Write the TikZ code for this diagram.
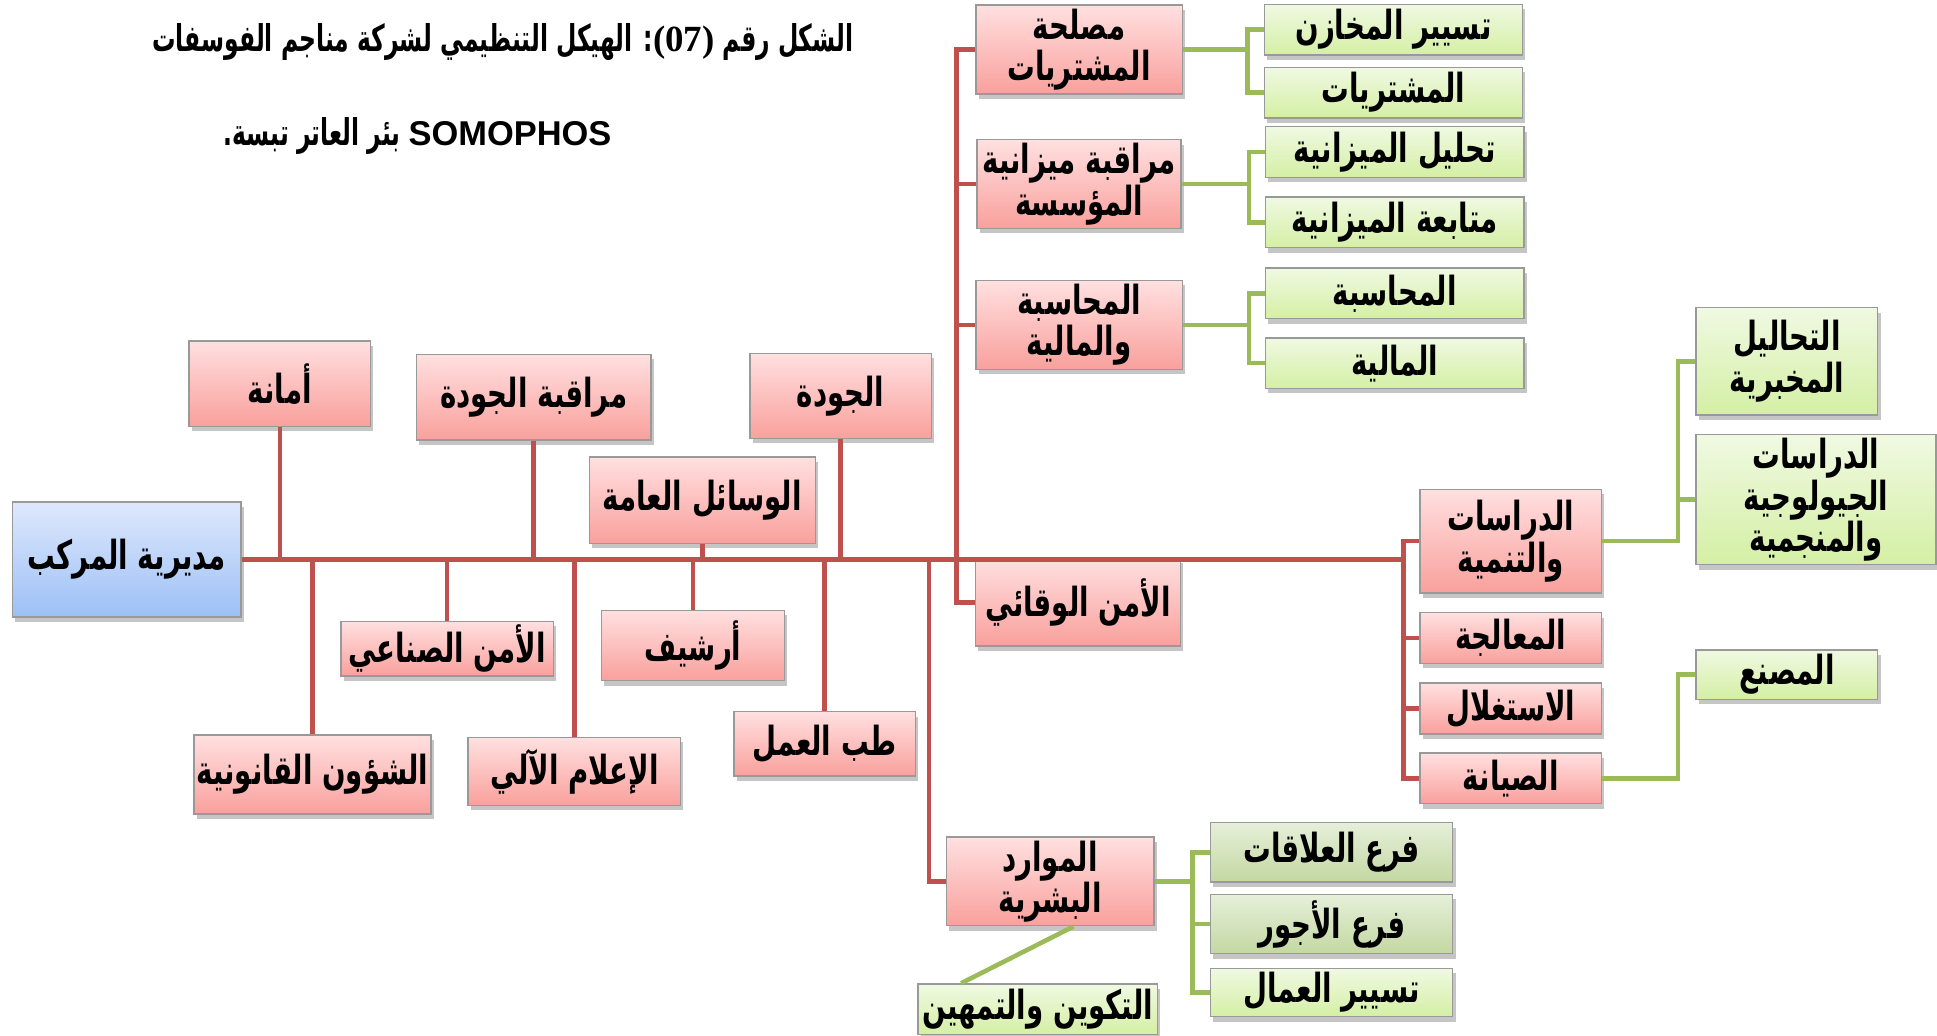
\documentclass[tikz,border=0pt]{standalone}
\usepackage{fontspec}
\setmainfont{Liberation Sans}
\newfontfamily\arabicfont[Script=Arabic,FakeStretch=0.69]{DejaVu Sans}
\newfontfamily\titlefont[Script=Arabic,FakeStretch=0.635]{DejaVu Sans}
\newfontfamily\numfont{Liberation Serif}
\TeXXeTstate=1
\usetikzlibrary{shadows,calc}
\newcommand{\ar}[1]{{\arabicfont\bfseries\beginR #1\endR}}
\newcommand{\tar}[1]{{\titlefont\bfseries\beginR #1\endR}}
\definecolor{lnred}{HTML}{C0504D}
\definecolor{lngreen}{HTML}{9BBB59}
\definecolor{redtop}{HTML}{FFE0E0}
\definecolor{redbot}{HTML}{F9A09C}
\definecolor{bluetop}{HTML}{DEE8FC}
\definecolor{bluebot}{HTML}{9CC0F6}
\definecolor{greentop}{HTML}{F0F9E2}
\definecolor{greenbot}{HTML}{D4EFA4}
\definecolor{olivetop}{HTML}{E6EFD9}
\definecolor{olivebot}{HTML}{C3D8A2}
\tikzset{
    box/.style = {draw=black!40, rectangle, align=center, inner xsep=0pt, inner ysep=1pt,
        font=\fontsize{11.4}{11.8}\selectfont,
        drop shadow={shadow xshift=0.8pt, shadow yshift=-1.4pt, fill=black!45, opacity=0.5}},
    redbox/.style = {box, top color=redtop, bottom color=redbot},
    bluebox/.style = {box, top color=bluetop, bottom color=bluebot},
    greenbox/.style = {box, top color=greentop, bottom color=greenbot},
    olivebox/.style = {box, top color=olivetop, bottom color=olivebot},
    wd/.style = {minimum width=#1*0.012353cm},
    ht/.style = {minimum height=#1*0.012353cm},
    redline/.style = {draw=lnred, line width=1.3pt},
    greenline/.style = {draw=lngreen, line width=1.3pt},
    title/.style = {font=\fontsize{10.5}{11}\selectfont\bfseries}
}
\begin{document}
\begin{tikzpicture}[x=0.012353cm, y=-0.012353cm]
        \useasboundingbox (0,0) rectangle (1568,838);
        % title
        \node [title] (title1) at (407,34) {\tar{الشكل رقم \beginL{\numfont(07)}\endL: الهيكل التنظيمي لشركة مناجم الفوسفات}};
        \node [title] (title2) at (338,110) {\tar{\beginL{\rmfamily\fontsize{9.8}{11}\selectfont SOMOPHOS}\endL{} بئر العاتر تبسة.}};
        % direction and staff units
        \node [bluebox, wd=185, ht=93] (dir) at (102.5,453) {\ar{مديرية المركب}};
        \node [redbox, wd=147, ht=69] (amana) at (226.5,310.5) {\ar{أمانة}};
        \node [redbox, wd=190, ht=69] (qctrl) at (432,321.5) {\ar{مراقبة الجودة}};
        \node [redbox, wd=147, ht=69] (quality) at (680.5,320.5) {\ar{الجودة}};
        \node [redbox, wd=183, ht=70] (means) at (568.5,405) {\ar{الوسائل العامة}};
        \node [redbox, wd=172, ht=42] (secind) at (362,525) {\ar{الأمن الصناعي}};
        \node [redbox, wd=148, ht=57] (archive) at (561,522.5) {\ar{أرشيف}};
        \node [redbox, wd=192, ht=64] (legal) at (253,627) {\ar{الشؤون القانونية}};
        \node [redbox, wd=172, ht=55] (it) at (465,624.5) {\ar{الإعلام الآلي}};
        \node [redbox, wd=147, ht=52] (occmed) at (667.5,602) {\ar{طب العمل}};
        % departments
        \node [redbox, wd=167, ht=72] (purch) at (873.5,40) {\ar{مصلحة}\\\ar{المشتريات}};
        \node [redbox, wd=165, ht=71] (budget) at (873.5,149) {\ar{مراقبة ميزانية}\\\ar{المؤسسة}};
        \node [redbox, wd=167, ht=71] (acct) at (873.5,263) {\ar{المحاسبة}\\\ar{والمالية}};
        \node [redbox, wd=166, ht=71] (prev) at (872.5,487.5) {\ar{الأمن الوقائي}};
        \node [redbox, wd=168, ht=71] (hr) at (850,713.5) {\ar{الموارد}\\\ar{البشرية}};
        \node [redbox, wd=147, ht=84] (studies) at (1223,438) {\ar{الدراسات}\\\ar{والتنمية}};
        \node [redbox, wd=147, ht=41] (treat) at (1223,516.5) {\ar{المعالجة}};
        \node [redbox, wd=147, ht=41] (exploit) at (1223,573.5) {\ar{الاستغلال}};
        \node [redbox, wd=147, ht=41] (maint) at (1223,630) {\ar{الصيانة}};
        % services
        \node [greenbox, wd=209, ht=41] (stores) at (1128,24) {\ar{تسيير المخازن}};
        \node [greenbox, wd=209, ht=41] (buying) at (1128,75) {\ar{المشتريات}};
        \node [greenbox, wd=209, ht=41] (analysis) at (1129,123) {\ar{تحليل الميزانية}};
        \node [greenbox, wd=209, ht=41] (follow) at (1129,180) {\ar{متابعة الميزانية}};
        \node [greenbox, wd=209, ht=41] (accounting) at (1129,237.5) {\ar{المحاسبة}};
        \node [greenbox, wd=209, ht=41] (finance) at (1129,294) {\ar{المالية}};
        \node [greenbox, wd=147, ht=87] (lab) at (1446.5,292.5) {\ar{التحاليل}\\\ar{المخبرية}};
        \node [greenbox, wd=194, ht=105] (geo) at (1470,404.5) {\ar{الدراسات}\\\ar{الجيولوجية}\\\ar{والمنجمية}};
        \node [greenbox, wd=147, ht=40] (factory) at (1446.5,546) {\ar{المصنع}};
        \node [olivebox, wd=196, ht=48] (rel) at (1078,690) {\ar{فرع العلاقات}};
        \node [olivebox, wd=196, ht=48] (wage) at (1078,748) {\ar{فرع الأجور}};
        \node [greenbox, wd=196, ht=39] (work) at (1078,803.5) {\ar{تسيير العمال}};
        \node [greenbox, wd=194, ht=41] (train) at (840,817) {\ar{التكوين والتمهين}};
        % red connectors
        \coordinate (spine) at (1136,453);
        \coordinate (hrtap) at (752,453);
        \draw [redline] (dir.east) -- (spine);
        \foreach \n in {amana,qctrl,quality,means}{
            \draw [redline] (\n.south) -- (\n.south |- dir.east);
        }
        \foreach \n in {secind,archive,legal,it,occmed}{
            \draw [redline] (\n.north) -- (\n.north |- dir.east);
        }
        \draw [redline] (purch.west) -- ++(-15,0) |- (prev.west);
        \foreach \n in {budget,acct}{
            \draw [redline] (\n.west) -- ++(-15,0);
        }
        \draw [redline] (hrtap) |- (hr.west);
        \draw [redline] (studies.west) -| (spine) |- (maint.west);
        \foreach \n in {treat,exploit}{
            \draw [redline] (\n.west) -- (\n.west -| spine);
        }
        % green connectors
        \foreach \a/\b/\c in {purch/stores/buying,budget/analysis/follow,acct/accounting/finance}{
            \draw [greenline] (\b.west) -- ++(-13,0) coordinate (bus) |- (\c.west);
            \draw [greenline] (\a.east) -- (\a.east -| bus);
        }
        \draw [greenline] (lab.west) -- ++(-14,0) coordinate (bus) |- (studies.east);
        \draw [greenline] (geo.west) -- (geo.west -| bus);
        \draw [greenline] (factory.west) -- ++(-14,0) |- (maint.east);
        \draw [greenline] (rel.west) -- ++(-14,0) coordinate (bus) |- (work.west);
        \draw [greenline] (wage.west) -- (wage.west -| bus);
        \draw [greenline] (hr.east) -- (hr.east -| bus);
        \draw [greenline] ($(hr.south)+(19,0)$) -- ($(train.north)+(-62,0)$);
\end{tikzpicture}
\end{document}
